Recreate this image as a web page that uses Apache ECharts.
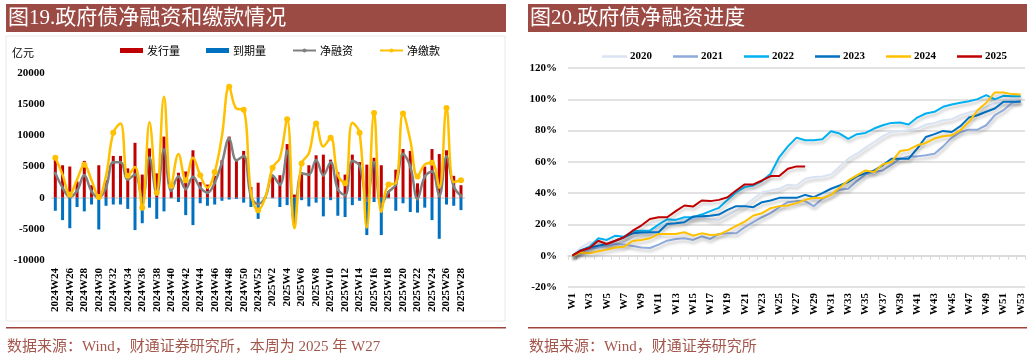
<!DOCTYPE html>
<html><head><meta charset="utf-8">
<script src="https://cdn.jsdelivr.net/npm/echarts@6/dist/echarts.min.js"></script>
<style>html,body{margin:0;padding:0;background:#fff}#c{width:1031px;height:359px}</style>
</head><body><div id="c"></div>
<script>
// ---------- Left chart data (亿元) ----------
const leftCats = ['2024W24','2024W25','2024W26','2024W27','2024W28','2024W29','2024W30','2024W31','2024W32','2024W33','2024W34','2024W35','2024W36','2024W37','2024W38','2024W39','2024W40','2024W41','2024W42','2024W43','2024W44','2024W45','2024W46','2024W47','2024W48','2024W49','2024W50','2024W51','2024W52','2025W1','2025W2','2025W3','2025W4','2025W5','2025W6','2025W7','2025W8','2025W9','2025W10','2025W11','2025W12','2025W13','2025W14','2025W15','2025W16','2025W17','2025W18','2025W19','2025W20','2025W21','2025W22','2025W23','2025W24','2025W25','2025W26','2025W27','2025W28'];
const issuance = [6100,5200,5000,2600,5900,2000,5200,2800,6700,6700,4700,8800,3700,7900,3900,9800,1200,4000,4200,7600,2500,2100,3500,6000,9800,6200,7500,1700,2400,200,3500,3600,8600,500,4000,5200,6800,6900,6100,4100,3700,6900,5700,5300,6400,5200,800,4500,7800,7500,2300,5000,7800,7000,7600,3500,2000];
const maturity = [-2100,-3600,-4900,-1500,-2200,-1100,-5100,-1300,-1100,-1100,-1800,-5200,-4100,-1600,-3400,-2200,-100,-700,-2800,-4400,-900,-1300,-1100,-500,-300,-200,-800,-1500,-3400,-100,-100,-1500,-1200,-4500,-400,-1400,-800,-3000,-400,-2900,-3100,-1200,-500,-6000,-700,-6000,-100,-2100,-900,-2300,-2400,-1600,-3600,-6600,-1100,-1300,-2000];
const netFinancing = [3900,1600,100,1100,3600,1000,0,1600,5700,5700,2900,3700,-300,6400,500,7700,1100,3400,1400,3300,1600,800,2400,5600,9500,6000,6700,200,-1000,100,3500,2100,7500,-4000,3900,3700,6000,3600,5700,1300,400,5900,5100,-500,5700,-1100,900,2100,7000,5000,-200,3400,4200,300,6600,1800,300];
const netPayment = [6400,3700,500,2900,5300,2800,100,3500,10400,11900,3500,4900,-1600,12100,800,16200,1900,7000,2800,6400,3600,1600,4100,9900,17800,14300,14100,900,-2000,100,4800,6400,12600,-4900,5500,7100,11900,8200,9600,3600,2300,12000,10400,-4800,13600,-2300,2100,2300,13500,9200,3400,5300,5600,1600,14400,2500,2800];

// ---------- Right chart data (%) ----------
const weekCats = ['W1','W2','W3','W4','W5','W6','W7','W8','W9','W10','W11','W12','W13','W14','W15','W16','W17','W18','W19','W20','W21','W22','W23','W24','W25','W26','W27','W28','W29','W30','W31','W32','W33','W34','W35','W36','W37','W38','W39','W40','W41','W42','W43','W44','W45','W46','W47','W48','W49','W50','W51','W52','W53'];
const y2020 = [0,5.3,8.6,7.9,7.5,7.9,8.6,11.8,13.9,15.0,18.2,20.7,23.5,22.9,23.5,24.6,23.3,22.9,25.7,28.9,32.1,36.4,40.6,41.7,42.8,45.4,44.9,49.2,50.3,50.7,52.0,57.1,62.0,65.2,69.1,72.7,76.4,79.1,79.6,80.2,81.3,83.9,84.9,86.6,87.3,89.8,91.6,93.0,95.2,97.3,98.4,99.0,99.0];
const y2021 = [0,2.1,4.3,5.3,6.4,7.5,7.1,6.2,5.3,4.9,7.1,9.6,10.7,11.1,10.1,12.4,10.7,13.9,14.3,14.3,18.2,21.4,24.6,27.2,31.0,34.2,34.9,34.9,31.7,36.4,39.1,42.1,42.8,47.7,52.0,53.5,54.5,58.2,62.0,63.5,63.5,64.2,65.2,69.9,75.5,79.1,80.6,80.6,83.4,89.8,93.0,97.8,99.0];
const y2022 = [0,3.2,5.8,11.1,10.1,12.8,12.2,15.6,16.0,16.0,19.9,23.3,22.9,24.6,24.6,26.3,28.5,30.6,35.7,40.6,43.9,44.9,47.7,52.4,63.1,69.9,75.5,73.8,73.8,74.4,79.6,78.1,74.7,77.7,78.5,81.3,83.4,84.9,85.1,83.9,88.3,90.9,92.0,95.2,96.7,97.8,98.8,100.1,102.7,99.9,102.2,102.0,102.0];
const y2023 = [0,3.6,5.3,6.4,7.5,9.6,11.8,14.3,14.8,15.0,15.0,20.3,20.7,21.4,25.0,25.2,25.5,26.3,29.3,31.7,31.7,31.0,34.2,35.3,37.0,37.0,37.0,38.9,37.4,40.0,42.8,44.9,47.1,50.7,52.8,54.5,57.8,62.0,62.0,62.0,68.4,75.9,77.7,79.8,79.1,82.8,88.3,89.8,92.0,94.1,98.4,98.4,98.4];
const y2024 = [0,2.1,1.5,2.8,3.9,5.3,5.8,9.4,10.1,11.1,13.9,13.9,13.9,15.0,12.8,14.3,13.3,13.5,16.0,19.0,21.8,25.7,27.2,30.4,31.7,32.1,33.6,35.7,37.0,36.8,38.9,43.4,48.1,51.3,54.5,53.5,58.4,59.9,66.9,67.8,70.6,72.1,74.9,76.4,77.0,80.2,85.6,93.0,97.8,104.4,104.4,103.3,103.1];
const y2025 = [0,3.2,4.9,9.6,7.5,9.6,11.8,16.0,19.3,23.5,24.6,24.6,28.5,32.1,31.4,35.3,34.9,35.7,37.4,41.7,45.6,45.6,48.1,50.9,50.9,55.6,57.1,57.1];

const yearNames = ['2020','2021','2022','2023','2024','2025'];
const yearData = [y2020,y2021,y2022,y2023,y2024,y2025];
const yearColors = ['#dae3f3','#8faadc','#00b0f0','#0070c0','#ffc000','#c00000'];

const serif = 'Liberation Serif, Noto Sans CJK SC';
const cjk = 'Liberation Serif, Noto Sans CJK SC';
const barColor = '#9c4a44';
const footColor = '#a3574c';

const chart = echarts.init(document.getElementById('c'), null, {renderer:'canvas'});

const rightSeries = yearNames.map((n,k)=>({
  name:n, type:'line', xAxisIndex:2, yAxisIndex:1, data:yearData[k],
  symbol:'none', smooth:false, color:yearColors[k],
  lineStyle:{width:2, color:yearColors[k], shadowColor:'rgba(0,0,0,0.22)', shadowBlur:3, shadowOffsetX:1, shadowOffsetY:3},
  z: 2+k
}));

const option = {
  animation:false,
  backgroundColor:'#fff',
  graphic:[
    {type:'rect', shape:{x:6,y:36,width:499,height:285}, style:{fill:'none', stroke:'#e8e8e8', lineWidth:1}, silent:true},
    {type:'rect', shape:{x:6,y:4,width:500,height:28}, style:{fill:barColor}},
    {type:'text', x:8, y:18, style:{text:'图19.政府债净融资和缴款情况', fill:'#fff', font:'21px '+cjk, textVerticalAlign:'middle'}},
    {type:'rect', shape:{x:528,y:4,width:499,height:28}, style:{fill:barColor}},
    {type:'text', x:530, y:18, style:{text:'图20.政府债净融资进度', fill:'#fff', font:'21px '+cjk, textVerticalAlign:'middle'}},
    {type:'rect', shape:{x:6,y:327,width:500,height:1.5}, style:{fill:'#a0453d'}},
    {type:'rect', shape:{x:528,y:327,width:499,height:1.5}, style:{fill:'#a0453d'}},
    {type:'text', x:7, y:347, style:{text:'数据来源：Wind，财通证券研究所，本周为 2025 年 W27', fill:footColor, font:'15px '+cjk, textVerticalAlign:'middle'}},
    {type:'text', x:529, y:347, style:{text:'数据来源：Wind，财通证券研究所', fill:footColor, font:'15px '+cjk, textVerticalAlign:'middle'}},
    {type:'text', x:12, y:53, style:{text:'亿元', fill:'#000', font:'11px Noto Sans CJK SC', textVerticalAlign:'middle'}}
  ],
  legend:[
    {left:115, top:40, itemWidth:23, itemHeight:5, itemGap:26,
     textStyle:{fontSize:11, fontFamily:'Noto Sans CJK SC', color:'#000', padding:[0,0,0,-1]},
     data:[{name:'发行量',icon:'rect'},{name:'到期量',icon:'rect'},{name:'净融资'},{name:'净缴款'}]},
    {left:597, top:46, itemWidth:25, itemHeight:2.5, itemGap:21,
     textStyle:{fontSize:11, fontFamily:serif, fontWeight:'bold', color:'#000', padding:[0,0,0,-2]},
     data:yearNames.map(n=>({name:n, icon:'rect'}))}
  ],
  grid:[
    {left:51.7, right:1031-464.6, top:73, bottom:359-260},
    {left:568, right:6, top:68, bottom:359-287}
  ],
  xAxis:[
    {type:'category', gridIndex:0, data:leftCats, position:'bottom',
     axisLine:{show:false, onZero:false}, axisTick:{show:false},
     axisLabel:{rotate:90, interval:1, margin:8, fontSize:11, fontWeight:'bold', fontFamily:serif, color:'#000'}},
    {type:'category', gridIndex:0, data:leftCats, position:'bottom',
     axisLine:{show:true, onZero:true, lineStyle:{color:'#d9d9d9', width:1.5}}, axisTick:{show:false}, axisLabel:{show:false}},
    {type:'category', gridIndex:1, data:weekCats, position:'bottom',
     axisLine:{show:false, onZero:false}, axisTick:{show:false},
     axisLabel:{rotate:90, interval:1, margin:6, fontSize:11, fontWeight:'bold', fontFamily:serif, color:'#000'}},
    {type:'category', gridIndex:1, data:weekCats, position:'bottom',
     axisLine:{show:true, onZero:true, lineStyle:{color:'#d9d9d9', width:1.5}},
     axisTick:{show:true, interval:0, length:4, lineStyle:{color:'#d9d9d9'}}, axisLabel:{show:false}}
  ],
  yAxis:[
    {type:'value', gridIndex:0, min:-10000, max:20000, interval:5000,
     axisLine:{show:false}, axisTick:{show:false}, splitLine:{show:false},
     axisLabel:{margin:7, fontSize:11, fontWeight:'bold', fontFamily:serif, color:'#000', formatter:v=>String(v)}},
    {type:'value', gridIndex:1, min:-20, max:120, interval:20,
     axisLine:{show:false}, axisTick:{show:false},
     splitLine:{show:true, lineStyle:{color:'#d9d9d9', width:1.5}},
     axisLabel:{margin:11, fontSize:11, fontWeight:'bold', fontFamily:serif, color:'#000', formatter:'{value}%'}}
  ],
  series:[
    {name:'发行量', type:'bar', xAxisIndex:0, yAxisIndex:0, data:issuance, barWidth:3, barGap:'-100%', color:'#c00000'},
    {name:'到期量', type:'bar', xAxisIndex:0, yAxisIndex:0, data:maturity, barWidth:3, barGap:'-100%', color:'#0070c0'},
    {name:'净融资', type:'line', xAxisIndex:0, yAxisIndex:0, data:netFinancing, smooth:0.4,
     symbol:'circle', symbolSize:3, color:'#808080', lineStyle:{width:2.5, color:'#808080'}, itemStyle:{color:'#808080'}, z:3},
    {name:'净缴款', type:'line', xAxisIndex:0, yAxisIndex:0, data:netPayment, smooth:0.4,
     symbol:'circle', symbolSize:6, color:'#ffc000', lineStyle:{width:2.5, color:'#ffc000'}, itemStyle:{color:'#ffc000'}, z:4}
  ].concat(rightSeries)
};
chart.setOption(option);
</script>
</body></html>
